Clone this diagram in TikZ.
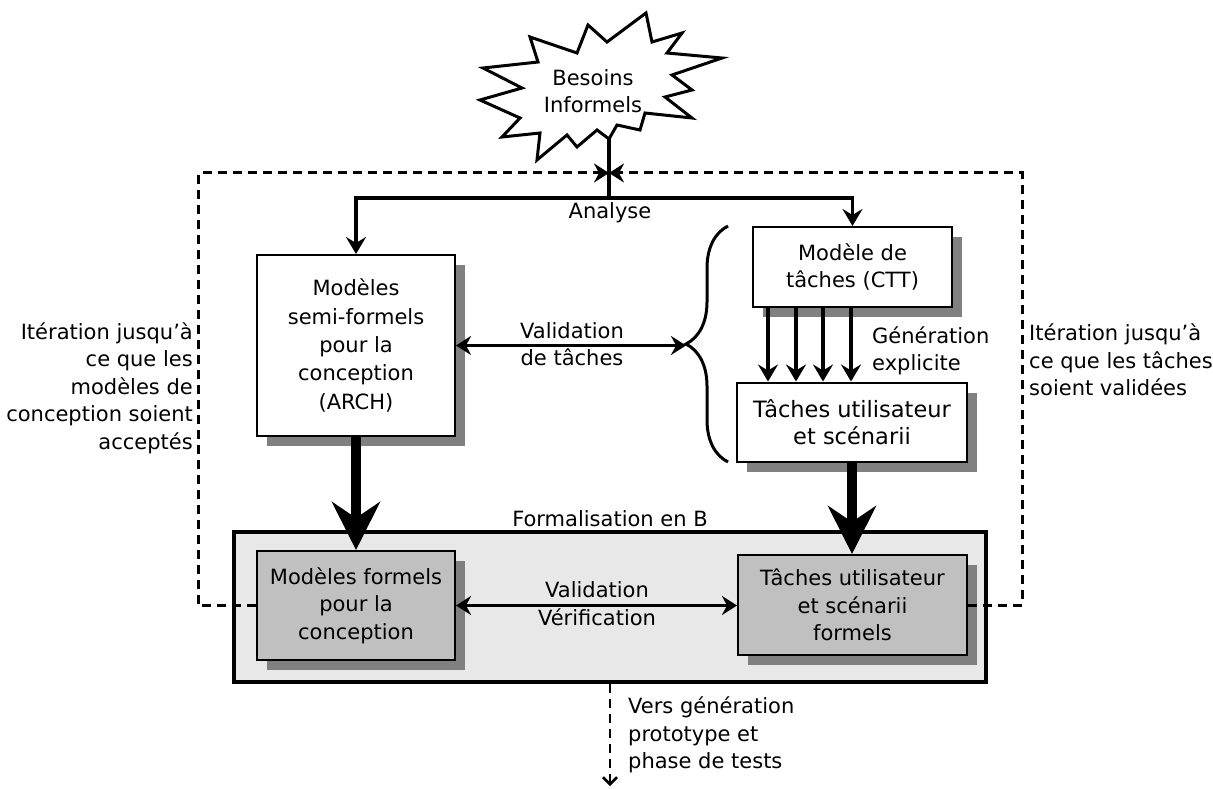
\documentclass[tikz,border=0pt]{standalone}
\usepackage{fontspec}
\setmainfont{DejaVu Sans}
\usepackage{xcolor}
\definecolor{cShadow}{HTML}{808080}
\definecolor{cFormal}{HTML}{C0C0C0}
\definecolor{cZone}{HTML}{E8E8E8}
\usetikzlibrary{positioning,arrows.meta,shadows,calc,%
  decorations.pathreplacing,backgrounds}
\tikzset{
  node-box/.style={draw,line width=2pt,fill=white,align=center,inner sep=0pt,
    drop shadow={fill=cShadow,opacity=1,shadow xshift=10pt,shadow yshift=-10pt}},
  node-formal/.style={node-box,fill=cFormal},
  node-zone/.style={draw,line width=3.5pt,fill=cZone,inner sep=0pt},
  note/.style={inner sep=0pt,align=center},
  burst/.style={draw,line width=3pt,fill=white,line join=miter},
  arrow/.style={-{Stealth[length=17pt,width=20pt,inset=6pt]},line width=3.5pt},
  arrow-both/.style={{Stealth[length=15pt,width=19pt,inset=5pt]}-{Stealth[length=15pt,width=19pt,inset=5pt]},line width=3pt},
  arrow-fat/.style={-{Stealth[length=48pt,width=48pt,inset=16pt]},line width=10pt},
  arrow-iter/.style={-{Stealth[length=15pt,width=19pt,inset=5pt]},line width=3pt,dash pattern=on 9pt off 6pt},
  arrow-out/.style={-{Straight Barb[length=7pt,width=14pt]},line width=2.5pt,dash pattern=on 9pt off 6pt},
}

\begin{document}
\begin{tikzpicture}[x=1pt,y=-1pt,every node/.style={font=\fontsize{21}{27.5}\selectfont}]
  \useasboundingbox (0,0) rectangle (1213,789);
  % besoins
  \draw[burst] (646,13) -- (652,42) -- (682,33) -- (667,53) -- (722,58) -- (672,75)
    -- (692,90) -- (665,97) -- (692,118) -- (645,113) -- (640,130) -- (617,125)
    -- (609,139) -- (597,130) -- (577,147) -- (567,135) -- (537,160) -- (540,133)
    -- (502,137) -- (520,118) -- (480,100) -- (522,88) -- (483,68) -- (538,62)
    -- (530,37) -- (577,53) -- (588,25) -- (607,42) -- cycle;
  \node[note] (bs) at (593,91) {Besoins\\Informels};
  \coordinate (foot) at (609,139);
  \coordinate (split) at (609,198);
  \coordinate (meet) at (609,173);

  \node[node-box,minimum width=198pt,minimum height=181pt,
    font=\fontsize{21}{28.3}\selectfont] (semi) at (356,345.5)
    {Modèles\\semi-formels\\pour la\\conception\\(ARCH)};
  \node[node-box,minimum width=199pt,minimum height=80pt] (ctt) at (852.5,267) {Modèle de\\tâches (CTT)};
  \node[node-box,minimum width=230pt,minimum height=79pt,
    font=\fontsize{22.5}{27.5}\selectfont] (scen) at (852,422) {Tâches utilisateur\\et scénarii};

  \begin{scope}[on background layer]
    \node[node-zone,minimum width=752pt,minimum height=150pt] (zb) at (610,607) {};
  \end{scope}
  \node[note] (fb) at (610,519) {Formalisation en B};
  \node[node-formal,minimum width=198pt,minimum height=109pt] (mf) at (356,605.5) {Modèles formels\\pour la\\conception};
  \node[node-formal,minimum width=229pt,minimum height=100pt] (tf) at (852.5,605) {Tâches utilisateur\\et scénarii\\formels};

  % analyse
  \draw[line width=3.5pt] (foot) -- (split);
  \draw[arrow] (split) -| (semi.north);
  \draw[arrow] (split) -| (ctt.north);
  \node[note] (an) at (610,213) {Analyse};

  % taches
  \foreach \dx in {-84.5,-56.5,-29.5,-1.5}
    \draw[arrow] ([xshift=\dx pt]ctt.south) -- ([xshift=\dx pt]ctt.south |- scen.north);
  \node[note,anchor=west,align=left] (gen) at (872,351) {Génération\\explicite};
  \draw[line width=3pt,decorate,decoration={brace,amplitude=42pt}] (728,462) -- (728,226);
  \coordinate (tip) at (686,345.5);
  \draw[arrow-both] (semi.east) -- (tip);
  \node[note] (vt) at (572,344) {Validation\\de tâches};

  % formalisation
  \draw[arrow-fat] (semi.south) -- (mf.north);
  \draw[arrow-fat] (scen.south) -- (scen.south |- tf.north);
  \draw[arrow-both] (mf.east) -- (mf.east -| tf.west);
  \node[note] (vv) at (597,603.5) {Validation\\Vérification};

  % iterations
  \draw[arrow-iter] (mf.west) -- ++(-58,0) |- (meet);
  \draw[arrow-iter] (tf.east) -- ++(54,0) |- (meet);
  \node[note,anchor=east,align=right] (itl) at (193,388)
    {Itération jusqu’à\\ce que les\\modèles de\\conception soient\\acceptés};
  \node[note,anchor=west,align=left] (itr) at (1029,360)
    {Itération jusqu’à\\ce que les tâches\\soient validées};

  % sortie
  \coordinate (out) at (610,786);
  \draw[arrow-out] (zb.south) -- (out);
  \node[note,anchor=west,align=left] (vers) at (628,735) {Vers génération\\prototype et\\phase de tests};
\end{tikzpicture}
\end{document}
